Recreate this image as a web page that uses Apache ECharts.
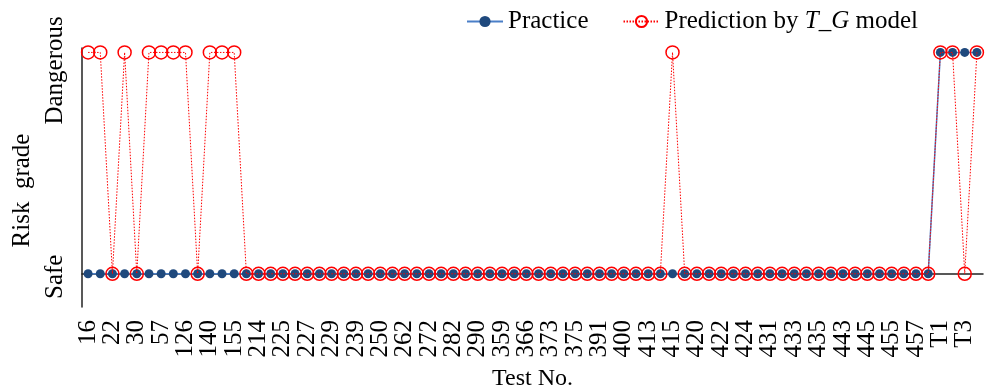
<!DOCTYPE html>
<html>
<head>
<meta charset="utf-8">
<script src="https://cdn.jsdelivr.net/npm/echarts@6/dist/echarts.min.js"></script>
<style>html,body{margin:0;padding:0;background:#fff}#c{width:986px;height:392px}</style>
</head>
<body>
<div id="c"></div>
<script>
// Test numbers (every other one is labelled on the axis)
const categories = [
  '16','19','22','27','30','45','57','98','126','133','140','148','155','190',
  '214','220','225','226','227','228','229','233','239','245','250','256','262','268',
  '272','276','282','286','290','330','359','362','366','370','373','374','375','383',
  '391','396','400','408','413','414','415','417','420','421','422','423','424','428',
  '431','432','433','434','435','440','443','444','445','450','455','456','457','460',
  'T1','T2','T3','T4'
];
// 0 = Safe, 1 = Dangerous
const practice = [
  0,0,0,0,0,0,0,0,0,0,0,0,0,0,
  0,0,0,0,0,0,0,0,0,0,0,0,0,0,
  0,0,0,0,0,0,0,0,0,0,0,0,0,0,
  0,0,0,0,0,0,0,0,0,0,0,0,0,0,
  0,0,0,0,0,0,0,0,0,0,0,0,0,0,
  1,1,1,1
];
const prediction = [
  1,1,0,1,0,1,1,1,1,0,1,1,1,0,
  0,0,0,0,0,0,0,0,0,0,0,0,0,0,
  0,0,0,0,0,0,0,0,0,0,0,0,0,0,
  0,0,0,0,0,0,1,0,0,0,0,0,0,0,
  0,0,0,0,0,0,0,0,0,0,0,0,0,0,
  1,1,0,1
];
const gradeLabels = ['Safe', 'Dangerous'];

const FONT = 'Liberation Serif';
const chart = echarts.init(document.getElementById('c'), null, {renderer: 'canvas'});
chart.setOption({
  animation: false,
  backgroundColor: '#fff',
  textStyle: {fontFamily: FONT, color: '#000'},
  legend: {
    left: 466, top: 9, padding: 0,
    itemWidth: 36, itemHeight: 14, itemGap: 34,
    textStyle: {
      fontFamily: FONT, fontSize: 25, color: '#000',
      rich: {i: {fontFamily: FONT, fontSize: 25, fontStyle: 'italic', color: '#000'}}
    },
    formatter: n => n.indexOf('T_G') >= 0 ? 'Prediction by {i|T_G} model' : n,
    data: ['Practice', 'Prediction by T_G model']
  },
  grid: {left: 82, right: 3, top: 48, bottom: 85, containLabel: false, outerBoundsMode: 'none'},
  xAxis: {
    type: 'category',
    data: categories,
    boundaryGap: true,
    name: 'Test No.',
    nameLocation: 'middle',
    nameGap: 60,
    nameTextStyle: {fontFamily: FONT, fontSize: 24, color: '#000'},
    axisLine: {lineStyle: {color: '#222', width: 1.5}},
    axisTick: {show: false},
    axisLabel: {
      interval: 0, rotate: 90, margin: 13,
      fontFamily: FONT, fontSize: 25, color: '#000',
      showMinLabel: true,
      formatter: (v, i) => (i % 2 === 0 ? v : '')
    },
    splitLine: {show: false}
  },
  yAxis: {
    type: 'value',
    min: -0.15, max: 1.02,
    name: '{n|Risk  grade}',
    nameLocation: 'middle',
    nameRotate: 90,
    nameGap: 46,
    nameTextStyle: {
      fontFamily: FONT, fontSize: 25, color: '#000',
      rich: {n: {fontFamily: FONT, fontSize: 25, color: '#000', padding: [0, 26, 0, 0]}}
    },
    axisLine: {show: true, lineStyle: {color: '#222', width: 1.5}},
    axisTick: {show: false},
    splitLine: {show: false},
    axisLabel: {
      customValues: [0, 1],
      rotate: 90, margin: 14,
      fontFamily: FONT, fontSize: 25, color: '#000',
      formatter: v => v === 1 ? '{d|' + gradeLabels[1] + '}' : (v === 0 ? '{s|' + gradeLabels[0] + '}' : ''),
      rich: {
        d: {fontFamily: FONT, fontSize: 25, color: '#000', padding: [0, 36, 0, 0]},
        s: {fontFamily: FONT, fontSize: 25, color: '#000', padding: [0, 6, 0, 0]}
      }
    }
  },
  series: [
    {
      name: 'Practice',
      type: 'line',
      data: practice,
      symbol: 'circle',
      symbolSize: 9,
      showSymbol: true,
      showAllSymbol: true,
      itemStyle: {color: '#1f497d'},
      lineStyle: {color: '#4a7fc8', width: 1.5},
      z: 2
    },
    {
      name: 'Prediction by T_G model',
      type: 'line',
      data: prediction,
      symbol: 'circle',
      symbolSize: 13,
      showSymbol: true,
      showAllSymbol: true,
      itemStyle: {color: 'rgba(255,255,255,0)', borderColor: '#ff0000', borderWidth: 1.5},
      lineStyle: {color: '#ff0000', width: 1, type: [1.5, 1.5]},
      z: 3
    }
  ]
});
</script>
</body>
</html>
